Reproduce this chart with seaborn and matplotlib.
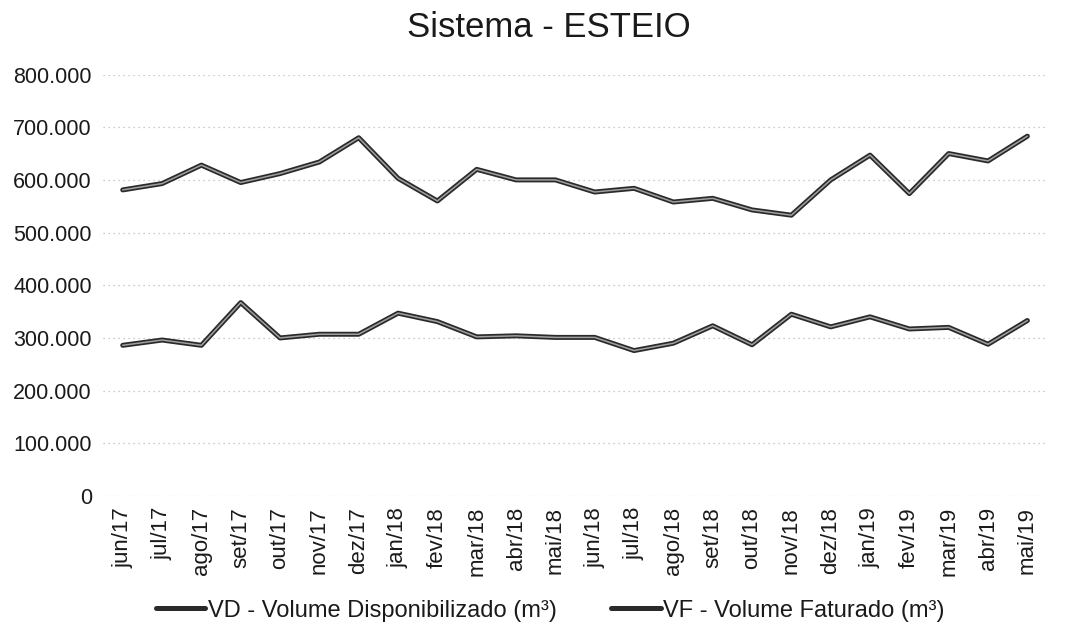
import matplotlib
matplotlib.use('Agg')
import matplotlib.pyplot as plt
import matplotlib.ticker as mticker
import pandas as pd
import seaborn as sns

# Data
months = ['jun/17', 'jul/17', 'ago/17', 'set/17', 'out/17', 'nov/17', 'dez/17',
          'jan/18', 'fev/18', 'mar/18', 'abr/18', 'mai/18', 'jun/18', 'jul/18',
          'ago/18', 'set/18', 'out/18', 'nov/18', 'dez/18', 'jan/19', 'fev/19',
          'mar/19', 'abr/19', 'mai/19']
vd = [581000, 593000, 628000, 595000, 612000, 634000, 680000, 603000, 560000,
      620000, 600000, 600000, 577000, 584000, 558000, 565000, 543000, 533000,
      600000, 647000, 574000, 650000, 636000, 683000]
vf = [286000, 296000, 286000, 367000, 300000, 307000, 307000, 347000, 331000,
      302000, 304000, 301000, 301000, 276000, 290000, 323000, 287000, 345000,
      321000, 340000, 317000, 320000, 288000, 333000]
vd_label = 'VD - Volume Disponibilizado (m³)'
vf_label = 'VF - Volume Faturado (m³)'

df = pd.DataFrame({'mes': months * 2,
                   'valor': vd + vf,
                   'serie': [vd_label] * len(vd) + [vf_label] * len(vf)})
df['pos'] = list(range(len(months))) * 2

sns.set_style('white')
plt.rcParams['font.family'] = ['Liberation Sans', 'DejaVu Sans']

fig = plt.figure(figsize=(10.85, 6.29), dpi=100)
ax = fig.add_axes([0.095, 0.2115, 0.87, 0.67])

sns.lineplot(data=df, x='pos', y='valor', hue='serie',
             palette=['#2a2a2a', '#2a2a2a'], linewidth=3.6, ax=ax, legend=False)
# lighter core to mimic the scanned double-line look
sns.lineplot(data=df, x='pos', y='valor', hue='serie',
             palette=['#a0a0a0', '#a0a0a0'], linewidth=1.1, ax=ax, legend=False)

ax.set_xlim(-0.5, len(months) - 0.5)
ax.set_ylim(0, 800000)
ax.set_xticks(range(len(months)))
ax.set_xticklabels(months, rotation=90, fontsize=16, color='#1a1a1a')
ax.yaxis.set_major_locator(mticker.MultipleLocator(100000))
ax.yaxis.set_major_formatter(
    mticker.FuncFormatter(lambda v, p: '0' if v == 0 else f'{int(v):,}'.replace(',', '.')))
ax.tick_params(axis='y', labelsize=15.5, colors='#1a1a1a', length=0, pad=8)
ax.tick_params(axis='x', length=0, pad=8)
ax.grid(axis='y', color='#bbbbbb', linestyle=(0, (1, 3)), linewidth=0.9)
ax.set_xlabel('')
ax.set_ylabel('')
for s in ax.spines.values():
    s.set_visible(False)

fig.text(0.506, 0.957, 'Sistema - ESTEIO', fontsize=25, ha='center', va='center',
         color='#1a1a1a')

handles = [plt.Line2D([], [], color='#2a2a2a', linewidth=3.6),
           plt.Line2D([], [], color='#2a2a2a', linewidth=3.6)]
fig.legend(handles, [vd_label, vf_label], loc='center', ncol=2,
           bbox_to_anchor=(0.507, 0.029), frameon=False, fontsize=17,
           handlelength=2.1, handletextpad=0.1, columnspacing=2.3,
           labelcolor='#1a1a1a')

fig.savefig('out.png', dpi=100)
